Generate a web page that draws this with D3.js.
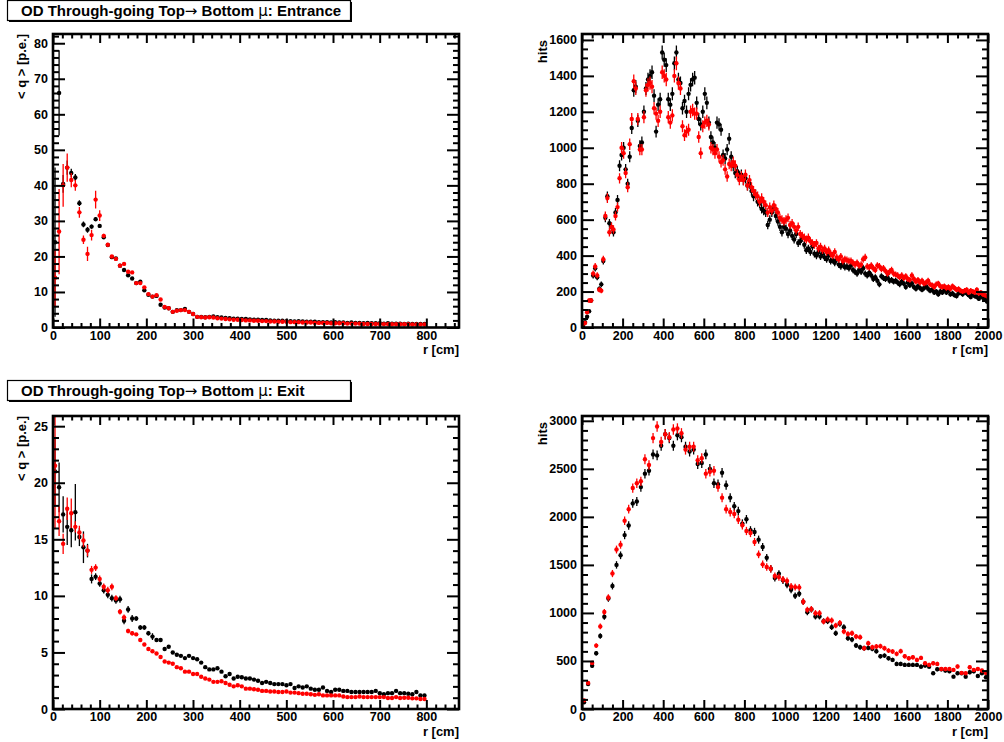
<!DOCTYPE html>
<meta charset="utf-8">
<style>
body { margin: 0; background: #fff; }
svg { font-family: "Liberation Sans", Arial, Helvetica, sans-serif; font-weight: bold; }
.frame { fill: none; stroke: #000; stroke-width: 2.6; }
.axis path { display: none; }
.axis line { stroke: #000; stroke-width: 2; }
.axis text { font-size: 12.5px; font-weight: bold; fill: #000; }
.title-box { fill: #fff; stroke: #000; stroke-width: 1.2; }
.lbl { font-size: 13px; }
</style>
<body>
<script src="https://d3js.org/d3.v7.min.js"></script>
<script>

// ---- data ----
// Entrance, <q> vs r (bins of 8.7 cm)
var entQBlack = [24, 66, 40.4, 45, 43.5, 42.2, 35, 29, 27.5, 28.4,
  30.5, 28.6, 25.4, 23.2, 19.8, 19.4, 17.4, 16.2, 14.7, 13.8,
  12.5, 12.9, 10.5, 9.2, 8.7, 8.9, 6.4, 5.6, 5.4, 4.4,
  4.9, 4.9, 5.2, 4.4, 3.8, 3.0,
  3.0, 2.9, 3.0, 3.1, 2.9, 2.8, 2.7, 2.6, 2.5, 2.5,
  2.4, 2.4, 2.3, 2.2, 2.2, 2.1, 2.1, 2.0, 1.9, 1.9,
  1.9, 1.8, 1.8, 1.7, 1.8, 1.7, 1.6, 1.6, 1.6, 1.5,
  1.5, 1.5, 1.4, 1.5, 1.4, 1.4, 1.3, 1.4, 1.3, 1.3,
  1.2, 1.3, 1.2, 1.2, 1.2, 1.1, 1.2, 1.1, 1.1, 1.1,
  1.0, 1.1, 1.0, 1.0, 1.0, 1.0];
var entQBlackErr = [21, 12, 2.5, 2, 1.2, 1, 0.8, 0.8, 0.8, 0.6, 0.6, 0.5, 0.4, 0.4, 0.3, 0.3, 0.3, 0.3, 0.3, 0.3];
var entQRed = [14, 27, 40, 45, 41.5, 40, 32.4, 24.7, 20.7, 26,
  36, 31.5, 25.8, 23.3, 20, 19.3, 17.4, 17.9, 15.7, 15.5,
  12.5, 12.5, 11.3, 9.4, 8.7, 9.1, 7.9, 5.8, 5.4, 4.4,
  4.7, 4.9, 4.9, 4.4, 3.8, 3.0,
  2.9, 2.8, 2.9, 2.8, 2.6, 2.5, 2.4, 2.3, 2.2, 2.2,
  2.1, 2.0, 2.0, 1.9, 1.9, 1.8, 1.8, 1.7, 1.7, 1.6,
  1.6, 1.6, 1.5, 1.5, 1.5, 1.4, 1.4, 1.4, 1.3, 1.3,
  1.3, 1.3, 1.2, 1.2, 1.2, 1.2, 1.1, 1.1, 1.1, 1.1,
  1.0, 1.0, 1.0, 1.0, 1.0, 0.95, 0.95, 0.9, 0.9, 0.9,
  0.9, 0.9, 0.85, 0.85, 0.85, 0.85];
var entQRedErr = [8, 12, 6, 4, 2, 1.5, 1.5, 1.2, 2, 1.5, 2.5, 1.5, 0.6, 0.5, 0.4, 0.4, 0.4, 0.4, 0.4, 0.3];

// Entrance, hits vs r (bins of 10 cm)
var entHitsBlack = [10, 30, 60, 90, 150, 290, 330, 280, 215, 240,
  370, 610, 730, 580, 560, 530, 640, 710, 900, 960,
  1000, 880, 800, 950, 1110, 1320, 1340, 1150, 1010, 1030,
  1200, 1330, 1380, 1400, 1420, 1290, 1090, 1240, 1270, 1530,
  1490, 1460, 1270, 1240, 1300, 1470, 1530, 1380, 1360, 1220,
  1260, 1200, 1300, 1350, 1380, 1390, 1250, 1160, 1130, 1200,
  1300, 1250, 1140, 1060, 1030, 1000, 1140, 1130, 1100, 960,
  940, 990, 1050, 950, 900, 860, 870, 840, 850, 820,
  830, 790, 800, 760, 730, 740, 700, 690, 660, 650,
  640, 570, 600, 640, 660, 620, 590, 560, 530, 560,
  550, 520, 540, 510, 490, 520, 470, 480, 500, 460,
  430, 440, 420, 450, 410, 400, 420, 395, 410, 390,
  380, 400, 370, 375, 360, 380, 350, 340, 355, 335,
  340, 330, 345, 320, 310, 300, 320, 310, 330, 300,
  290, 305, 290, 270, 280, 260, 240, 285, 275, 270,
  280, 260, 265, 255, 260, 250, 240, 255, 245, 225,
  250, 235, 245, 225, 215, 230, 220, 210, 220, 230,
  215, 205, 210, 195, 200, 185, 200, 195, 210, 195,
  205, 185, 190, 180, 175, 190, 195, 185, 200, 190,
  180, 170, 185, 175, 170, 160, 175, 165, 160, 145];
var entHitsRed = [20, 25, 85, 150, 150, 300, 340, 290, 210, 205,
  380, 620, 720, 530, 560, 545, 620, 670, 830, 1000,
  970, 860, 780, 1020, 1160, 1370, 1330, 1160, 990, 990,
  1170, 1320, 1350, 1360, 1340, 1220, 1190, 1150, 1200, 1420,
  1400, 1380, 1170, 1140, 1180, 1400, 1470, 1360, 1330, 1120,
  1070, 1090, 1100, 1200, 1210, 1190, 1190, 1060, 970, 1120,
  1140, 1150, 1130, 1000, 990, 970, 990, 950, 920, 930,
  880, 840, 910, 900, 920, 900, 850, 820, 840, 820,
  850, 790, 820, 780, 760, 740, 730, 700, 720, 700,
  680, 640, 670, 650, 680, 660, 640, 610, 600, 590,
  600, 610, 570, 580, 560, 540, 560, 520, 510, 500,
  490, 500, 480, 470, 460, 470, 440, 450, 430, 440,
  420, 430, 410, 400, 420, 390, 380, 395, 370, 380,
  375, 370, 370, 360, 350, 360, 345, 350, 380, 390,
  340, 335, 345, 330, 320, 345, 340, 325, 330, 315,
  300, 310, 320, 300, 295, 290, 280, 290, 275, 285,
  270, 265, 290, 270, 255, 265, 250, 260, 245, 250,
  260, 240, 235, 225, 240, 245, 230, 225, 230, 220,
  225, 215, 230, 220, 210, 215, 205, 200, 205, 210,
  195, 205, 200, 195, 210, 190, 195, 185, 180, 175];

// Exit, <q> vs r (bins of 8.7 cm)
var exitQBlack = [21.0, 19.6, 17.2, 16.1, 15.8, 17.4, 15.2, 14.3, 14.0, 11.5,
  11.7, 11.1, 10.5, 10.1, 9.8, 9.6, 9.7, 7.8, 8.8, 8.0,
  8.0, 7.2, 7.2, 6.7, 6.4, 6.1, 6.1, 5.3, 5.5, 5.0,
  4.8, 4.7, 4.5, 4.7, 4.5, 4.4,
  4.1, 3.7, 3.5, 3.5, 3.6, 3.3, 2.9, 3.1, 2.7, 2.85,
  2.8, 2.7, 2.7, 2.6, 2.5, 2.3, 2.4, 2.3, 2.2, 2.2,
  2.2, 2.1, 2.2, 1.85, 2.0, 1.9, 2.0, 1.8, 1.7, 1.7,
  1.9, 1.6, 1.5, 1.7, 1.7, 1.6, 1.6, 1.5, 1.5, 1.5,
  1.5, 1.5, 1.5, 1.6, 1.4, 1.3, 1.4, 1.4, 1.6, 1.4,
  1.4, 1.35, 1.3, 1.5, 1.2, 1.2];
var exitQBlackErr = [3, 2.2, 1.6, 1.6, 1.5, 2.5, 0.8, 1.4, 0.6, 0.4, 0.3, 0.3, 0.3, 0.3, 0.3, 0.3, 0.3, 0.3, 0.3, 0.3, 0.2, 0.2, 0.2, 0.2, 0.3];
var exitQRed = [21.5, 16.6, 14.6, 17.7, 17.3, 16.1, 15.6, 14.9, 14.0, 12.3,
  12.5, 11.5, 10.8, 10.5, 10.8, 9.8, 8.6, 8.1, 6.9, 6.7,
  6.6, 6.1, 5.7, 5.3, 5.1, 4.9, 4.6, 4.2, 4.1, 4.0,
  3.7, 3.6, 3.3, 3.3, 3.1, 3.1,
  2.85, 2.7, 2.6, 2.4, 2.4, 2.45, 2.3, 2.15, 2.0, 2.1,
  2.0, 1.8, 1.8, 1.75, 1.7, 1.6, 1.6, 1.55, 1.55, 1.5,
  1.5, 1.55, 1.45, 1.45, 1.4, 1.35, 1.35, 1.3, 1.25, 1.3,
  1.2, 1.2, 1.2, 1.2, 1.2, 1.1, 1.05, 1.05, 1.05, 1.1,
  1.05, 1.05, 1.05, 1.05, 1.05, 1.05, 0.97, 0.97, 1.05, 0.97,
  1.0, 1.0, 0.94, 0.94, 0.88, 0.88];
var exitQRedErr = [5.5, 1.3, 0.9, 1.0, 1.3, 0.5, 0.6, 0.6, 0.5, 0.35, 0.3, 0.3, 0.3, 0.3, 0.3, 0.25, 0.25, 0.25, 0.2, 0.2];

// Exit, hits vs r (bins of 20 cm)
var exitHitsBlack = [70, 260, 450, 580, 760, 960, 1150, 1280, 1500, 1600,
  1810, 1910, 2140, 2160, 2310, 2450, 2480, 2650, 2640, 2740,
  2860, 2820, 2740, 2850, 2830, 2730, 2680, 2700, 2550, 2560,
  2650, 2500, 2350, 2340, 2460, 2330, 2200, 2110, 2060,
  1930, 1975, 1860, 1843, 1763, 1686, 1575, 1460, 1363, 1408,
  1339, 1293, 1241, 1179, 1200, 1116, 1008, 1036, 963, 963,
  914, 914, 852, 789, 887, 852, 737, 723, 661, 643,
  633, 636, 626, 601, 549, 556, 528, 511, 469, 469,
  459, 459, 459, 459, 441, 452, 441, 372, 414, 414,
  400, 393, 337, 372, 372, 337, 382, 393, 344, 372, 330];
var exitHitsRed = [90, 270, 480, 660, 860, 1010, 1160, 1410, 1660, 1710,
  1960, 2080, 2300, 2350, 2370, 2600, 2540, 2820, 2940, 2780,
  2860, 2830, 2910, 2920, 2870, 2700, 2730, 2730, 2590, 2610,
  2450, 2470, 2480, 2310, 2200, 2080, 2050, 2030, 1970,
  1912, 1853, 1832, 1739, 1610, 1506, 1478, 1460, 1384, 1373,
  1349, 1332, 1276, 1269, 1266, 1116, 1033, 1040, 998, 998,
  911, 932, 921, 869, 897, 807, 782, 789, 754, 748,
  633, 685, 643, 650, 654, 633, 608, 598, 574, 602,
  549, 528, 539, 511, 532, 476, 459, 476, 469, 417,
  417, 417, 407, 442, 376, 372, 435, 407, 417, 400, 376];

// axis ticks
var qXMajor = [0, 100, 200, 300, 400, 500, 600, 700, 800];
var hitsXMajor = [0, 200, 400, 600, 800, 1000, 1200, 1400, 1600, 1800, 2000];
var entQYMajor = [0, 10, 20, 30, 40, 50, 60, 70, 80];
var entHitsYMajor = [0, 200, 400, 600, 800, 1000, 1200, 1400, 1600];
var exitQYMajor = [0, 5, 10, 15, 20, 25];
var exitHitsYMajor = [0, 500, 1000, 1500, 2000, 2500, 3000];

var W = 1004, H = 742;
var svg = d3.select("body").append("svg")
    .attr("width", W)
    .attr("height", H);

function minorTicks(major, sub, max) {
  var step = (major[1] - major[0]) / sub;
  return d3.range(0, max + 1e-9, step).filter(function(v) {
    return Math.abs(v / (major[1] - major[0]) - Math.round(v / (major[1] - major[0]))) > 1e-6;
  });
}

function panel(cfg) {
  var x = d3.scaleLinear().domain([0, cfg.xMax]).range([cfg.left, cfg.right]);
  var y = d3.scaleLinear().domain([0, cfg.yMax]).range([cfg.bottom, cfg.top]);

  svg.append("clipPath").attr("id", "clip" + cfg.id)
    .append("rect")
      .attr("x", cfg.left).attr("y", cfg.top)
      .attr("width", cfg.right - cfg.left).attr("height", cfg.bottom - cfg.top);

  var data = svg.append("g").attr("clip-path", "url(#clip" + cfg.id + ")");

  cfg.series.forEach(function(s) {
    var pts = s.values.map(function(v, i) {
      return { r: cfg.bin * (i + 0.5), v: v, e: s.err(v, i) };
    });
    var g = data.append("g");
    g.selectAll("line")
      .data(pts.filter(function(d) { return d.e > 0; }))
      .enter().append("line")
        .attr("x1", function(d) { return x(d.r); })
        .attr("x2", function(d) { return x(d.r); })
        .attr("y1", function(d) { return y(d.v - d.e); })
        .attr("y2", function(d) { return y(d.v + d.e); })
        .attr("stroke", s.color)
        .attr("stroke-width", 1.3);
    g.selectAll("circle")
      .data(pts)
      .enter().append("circle")
        .attr("cx", function(d) { return x(d.r); })
        .attr("cy", function(d) { return y(d.v); })
        .attr("r", 2.2)
        .attr("fill", s.color);
  });

  var xMinor = minorTicks(cfg.xMajor, cfg.xSub, cfg.xMax);
  var yMinor = minorTicks(cfg.yMajor, cfg.ySub, cfg.yMax);
  var xl = 9, yl = 12;

  function add(axis, tx, ty) {
    svg.append("g").attr("class", "axis")
      .attr("transform", "translate(" + tx + "," + ty + ")")
      .call(axis);
  }
  // bottom
  add(d3.axisBottom(x).tickValues(xMinor).tickSize(-xl / 2).tickFormat(""), 0, cfg.bottom);
  add(d3.axisBottom(x).tickValues(cfg.xMajor).tickSize(-xl).tickPadding(3.5).tickFormat(d3.format("d")), 0, cfg.bottom);
  // top
  add(d3.axisTop(x).tickValues(xMinor).tickSize(-xl / 2).tickFormat(""), 0, cfg.top);
  add(d3.axisTop(x).tickValues(cfg.xMajor).tickSize(-xl).tickFormat(""), 0, cfg.top);
  // left
  add(d3.axisLeft(y).tickValues(yMinor).tickSize(-yl / 2).tickFormat(""), cfg.left, 0);
  add(d3.axisLeft(y).tickValues(cfg.yMajor).tickSize(-yl).tickPadding(5).tickFormat(d3.format("d")), cfg.left, 0);
  // right
  add(d3.axisRight(y).tickValues(yMinor).tickSize(-yl / 2).tickFormat(""), cfg.right, 0);
  add(d3.axisRight(y).tickValues(cfg.yMajor).tickSize(-yl).tickFormat(""), cfg.right, 0);

  svg.append("rect").attr("class", "frame")
    .attr("x", cfg.left).attr("y", cfg.top)
    .attr("width", cfg.right - cfg.left).attr("height", cfg.bottom - cfg.top);

  svg.append("text").attr("class", "lbl")
    .attr("x", cfg.right).attr("y", cfg.bottom + 26.5)
    .attr("text-anchor", "end")
    .text("r [cm]");

  svg.append("text").attr("class", "lbl")
    .attr("transform", "translate(" + cfg.yTitleX + "," + cfg.yTitleY + ") rotate(-90)")
    .attr("text-anchor", "end")
    .text(cfg.yTitle);
}

function titleBox(y0, label) {
  var g = svg.append("g");
  g.append("rect").attr("x", 9).attr("y", y0 + 2).attr("width", 343).attr("height", 20).attr("fill", "#000");
  g.append("rect").attr("class", "title-box").attr("x", 7.5).attr("y", y0 + 0.5).attr("width", 343).attr("height", 20);
  var t = g.append("text").attr("x", 21).attr("y", y0 + 15.5).attr("font-size", "15px");
  t.append("tspan").text("OD Through-going Top");
  t.append("tspan").attr("font-weight", "normal").attr("font-family", "DejaVu Sans").text("\u2192");
  t.append("tspan").text(" Bottom ");
  t.append("tspan").attr("font-weight", "normal").attr("font-family", "DejaVu Sans").text("\u03bc");
  t.append("tspan").text(": " + label);
}

var leftX = [53, 459], rightX = [582, 988];
var topY = [34, 327.5], botY = [416, 709];

panel({ id: 1, left: leftX[0], right: leftX[1], top: topY[0], bottom: topY[1],
  xMax: 870, yMax: 82.6, bin: 8.7,
  xMajor: qXMajor, xSub: 5, yMajor: entQYMajor, ySub: 5,
  yTitle: "< q > [p.e.]", yTitleX: 26, yTitleY: 34,
  series: [
    { values: entQBlack, color: "#000", err: function(v, i) { return entQBlackErr[i] || 0; } },
    { values: entQRed, color: "#ff0000", err: function(v, i) { return entQRedErr[i] || 0; } }
  ] });

panel({ id: 2, left: rightX[0], right: rightX[1], top: topY[0], bottom: topY[1],
  xMax: 2000, yMax: 1633, bin: 10,
  xMajor: hitsXMajor, xSub: 4, yMajor: entHitsYMajor, ySub: 4,
  yTitle: "hits", yTitleX: 547, yTitleY: 40,
  series: [
    { values: entHitsBlack, color: "#000", err: function(v) { return Math.sqrt(v); } },
    { values: entHitsRed, color: "#ff0000", err: function(v) { return Math.sqrt(v); } }
  ] });

panel({ id: 3, left: leftX[0], right: leftX[1], top: botY[0], bottom: botY[1],
  xMax: 870, yMax: 25.9, bin: 8.7,
  xMajor: qXMajor, xSub: 5, yMajor: exitQYMajor, ySub: 5,
  yTitle: "< q > [p.e.]", yTitleX: 26, yTitleY: 416,
  series: [
    { values: exitQBlack, color: "#000", err: function(v, i) { return exitQBlackErr[i] || 0; } },
    { values: exitQRed, color: "#ff0000", err: function(v, i) { return exitQRedErr[i] || 0; } }
  ] });

panel({ id: 4, left: rightX[0], right: rightX[1], top: botY[0], bottom: botY[1],
  xMax: 2000, yMax: 3050, bin: 20,
  xMajor: hitsXMajor, xSub: 4, yMajor: exitHitsYMajor, ySub: 5,
  yTitle: "hits", yTitleX: 547, yTitleY: 422,
  series: [
    { values: exitHitsBlack, color: "#000", err: function(v) { return Math.sqrt(v); } },
    { values: exitHitsRed, color: "#ff0000", err: function(v) { return Math.sqrt(v); } }
  ] });

titleBox(0, "Entrance");
titleBox(380, "Exit");

</script>
